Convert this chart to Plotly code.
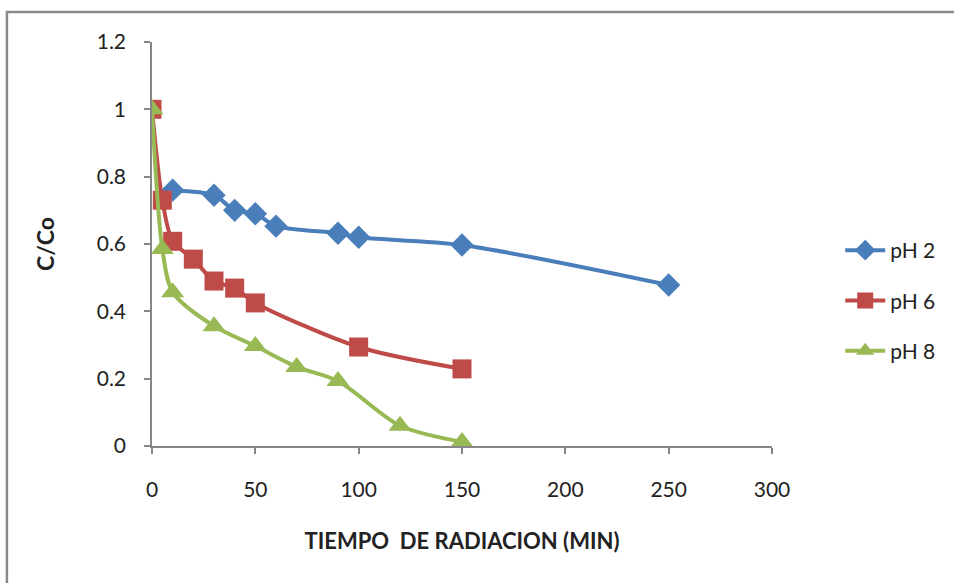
import plotly.graph_objects as go

# Tiempo de radiación (min) y C/Co para cada pH
t_ph2 = [10, 30, 40, 50, 60, 90, 100, 150, 250]
c_ph2 = [0.76, 0.745, 0.70, 0.69, 0.653, 0.632, 0.62, 0.597, 0.478]

t_ph6 = [0, 5, 10, 20, 30, 40, 50, 100, 150]
c_ph6 = [1.0, 0.73, 0.608, 0.555, 0.49, 0.469, 0.425, 0.294, 0.229]

t_ph8 = [0, 5, 10, 30, 50, 70, 90, 120, 150]
c_ph8 = [1.0, 0.585, 0.457, 0.356, 0.297, 0.235, 0.193, 0.06, 0.012]

series = [
    ("pH 2", t_ph2, c_ph2, "#4a7ebb", "diamond", 18),
    ("pH 6", t_ph6, c_ph6, "#be4b48", "square", 19),
    ("pH 8", t_ph8, c_ph8, "#98b954", "triangle-up", 20),
]

FONT = "Lato, 'Open Sans', sans-serif"
GRAY = "#868686"

fig = go.Figure()
for name, x, y, color, symbol, size in series:
    fig.add_trace(go.Scatter(
        x=x, y=y, name=name, mode="lines+markers",
        line=dict(color=color, width=4, shape="spline", smoothing=0.8),
        marker=dict(symbol=symbol, size=size, color=color),
        legendgroup=name,
    ))

fig.update_layout(
    width=954, height=583,
    margin=dict(l=152, r=182, t=42, b=137),
    paper_bgcolor="white", plot_bgcolor="white",
    font=dict(family=FONT, size=21, color="#222"),
    showlegend=True,
    legend=dict(
        x=1.11, y=0.36, xanchor="left", yanchor="middle",
        font=dict(size=21, color="#222"),
        tracegroupgap=20, itemwidth=40,
        bgcolor="rgba(0,0,0,0)",
    ),
    xaxis=dict(
        range=[0, 300], dtick=50, tick0=0,
        showgrid=False, zeroline=False,
        showline=True, linecolor=GRAY, linewidth=1.5,
        ticks="outside", ticklen=6, tickcolor=GRAY, tickwidth=1.5,
        ticklabelstandoff=18,
        tickfont=dict(size=21),
        title=dict(text="<b>TIEMPO  DE RADIACION (MIN)</b>", standoff=34,
                   font=dict(size=22)),
    ),
    yaxis=dict(
        range=[0, 1.2], dtick=0.2, tick0=0,
        showgrid=False, zeroline=False,
        showline=True, linecolor=GRAY, linewidth=1.5,
        ticks="outside", ticklen=6, tickcolor=GRAY, tickwidth=1.5,
        ticklabelstandoff=14,
        tickfont=dict(size=21),
        title=dict(text="<b>C/Co</b>", standoff=36, font=dict(size=23)),
    ),
    shapes=[dict(
        type="rect", xref="paper", yref="paper",
        x0=-0.234, x1=1.32, y0=-0.37, y1=1.0743,
        line=dict(color="#8a8a8a", width=2.5), fillcolor="rgba(0,0,0,0)",
        layer="below",
    )],
)

fig.write_html("out.html")
